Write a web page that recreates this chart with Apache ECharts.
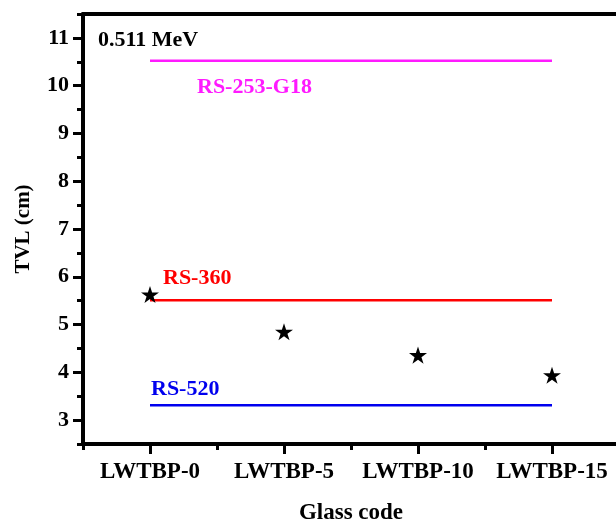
<!DOCTYPE html>
<html>
<head>
<meta charset="utf-8">
<script src="https://cdn.jsdelivr.net/npm/echarts@6/dist/echarts.min.js"></script>
<style>
  html, body { margin: 0; padding: 0; background: #fff; }
  #chart { width: 616px; height: 521px; }
</style>
</head>
<body>
<div id="chart"></div>
<script>
// Glass samples and their tenth-value layer at 0.511 MeV
const glassCodes = ['LWTBP-0', 'LWTBP-5', 'LWTBP-10', 'LWTBP-15'];
const tvlValues = [5.63, 4.85, 4.36, 3.94];

// Reference shielding concretes (constant TVL)
const refNames = ['RS-253-G18', 'RS-360', 'RS-520'];
const refTVL = [10.52, 5.51, 3.31];
const refColors = ['#ff1aff', '#ff0000', '#0000ee'];

const energyLabel = '0.511 MeV';
const yMajorTicks = [3, 4, 5, 6, 7, 8, 9, 10, 11];
const yMinorTicks = [2.5, 3.5, 4.5, 5.5, 6.5, 7.5, 8.5, 9.5, 10.5, 11.5];
const xMinorTicks = [-0.5, 0.5, 1.5, 2.5];

const FONT = '"Liberation Serif", "Times New Roman", serif';
const STAR = 'path://M50,0L61.2,34.6L97.6,34.6L68.2,55.9L79.4,90.5L50,69.1L20.6,90.5L31.8,55.9L2.4,34.6L38.8,34.6Z';

const chart = echarts.init(document.getElementById('chart'), null, { renderer: 'canvas' });

const xIdx = glassCodes.map((_, i) => i);

const lineSeries = refNames.map((name, k) => ({
  name: name,
  type: 'line',
  xAxisIndex: 0,
  yAxisIndex: 0,
  showSymbol: false,
  silent: true,
  lineStyle: { color: refColors[k], width: 2.5 },
  data: [[xIdx[0], refTVL[k]], [xIdx[xIdx.length - 1], refTVL[k]]],
  z: 2
}));

chart.setOption({
  animation: false,
  backgroundColor: '#fff',
  grid: { left: 83, top: 14, width: 536, height: 430, outerBoundsMode: 'none', containLabel: false },
  xAxis: [
    {
      type: 'value', min: -0.5, max: 3.5, position: 'bottom',
      name: 'Glass code', nameLocation: 'middle', nameGap: 58,
      nameTextStyle: { fontFamily: FONT, fontWeight: 'bold', fontSize: 23, color: '#000' },
      axisLine: { show: true, onZero: false, lineStyle: { color: '#000', width: 4 } },
      axisTick: { show: true, customValues: xIdx, length: 10, lineStyle: { color: '#000', width: 3 } },
      axisLabel: {
        customValues: xIdx, margin: 17,
        formatter: v => glassCodes[Math.round(v)] || '',
        fontFamily: FONT, fontWeight: 'bold', fontSize: 23, color: '#000'
      },
      splitLine: { show: false }
    },
    {
      type: 'value', min: -0.5, max: 3.5, position: 'bottom', gridIndex: 0,
      axisLine: { show: false, onZero: false },
      axisTick: { show: true, customValues: xMinorTicks, length: 6, lineStyle: { color: '#000', width: 3 } },
      axisLabel: { show: false },
      splitLine: { show: false }
    },
    {
      type: 'value', min: -0.5, max: 3.5, position: 'top', gridIndex: 0,
      axisLine: { show: true, onZero: false, lineStyle: { color: '#000', width: 4 } },
      axisTick: { show: false },
      axisLabel: { show: false },
      splitLine: { show: false }
    }
  ],
  yAxis: [
    {
      type: 'value', min: 2.5, max: 11.5, position: 'left',
      name: 'TVL (cm)', nameLocation: 'middle', nameGap: 49,
      nameTextStyle: { fontFamily: FONT, fontWeight: 'bold', fontSize: 21, color: '#000' },
      axisLine: { show: true, onZero: false, lineStyle: { color: '#000', width: 4 } },
      axisTick: { show: true, customValues: yMajorTicks, length: 10, lineStyle: { color: '#000', width: 3 } },
      axisLabel: {
        customValues: yMajorTicks, margin: 14,
        fontFamily: FONT, fontWeight: 'bold', fontSize: 22, color: '#000'
      },
      splitLine: { show: false }
    },
    {
      type: 'value', min: 2.5, max: 11.5, position: 'left', gridIndex: 0,
      axisLine: { show: false, onZero: false },
      axisTick: { show: true, customValues: yMinorTicks, length: 6, lineStyle: { color: '#000', width: 3 } },
      axisLabel: { show: false },
      splitLine: { show: false }
    }
  ],
  series: lineSeries.concat([{
    name: 'TVL',
    type: 'scatter',
    xAxisIndex: 0,
    yAxisIndex: 0,
    symbol: STAR,
    symbolSize: 18,
    symbolKeepAspect: true,
    itemStyle: { color: '#000', opacity: 1 },
    data: tvlValues.map((v, i) => [xIdx[i], v]),
    z: 5
  }])
});

// Text annotations placed next to the start of each reference line
const labelOffsets = [[47, 26], [13, -22], [1, -16]];
const texts = refNames.map((name, k) => {
  const p = chart.convertToPixel({ xAxisIndex: 0, yAxisIndex: 0 }, [xIdx[0], refTVL[k]]);
  return {
    type: 'text',
    x: p[0] + labelOffsets[k][0],
    y: p[1] + labelOffsets[k][1],
    style: {
      text: name, fill: refColors[k],
      font: 'bold 22px ' + FONT,
      verticalAlign: 'middle', align: 'left'
    }
  };
});
texts.push({
  type: 'text', x: 98, y: 40,
  style: { text: energyLabel, fill: '#000', font: 'bold 22px ' + FONT, verticalAlign: 'middle', align: 'left' }
});
chart.setOption({ graphic: texts });
</script>
</body>
</html>
